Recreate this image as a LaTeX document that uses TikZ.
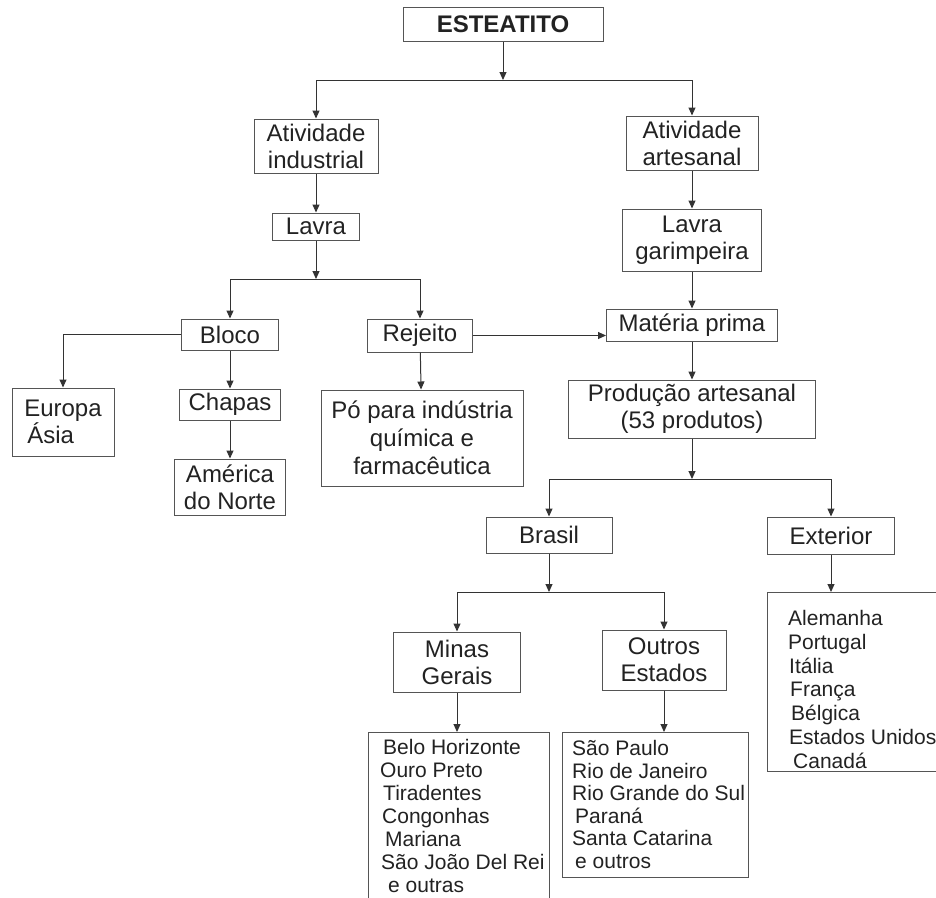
\documentclass[tikz,border=0pt]{standalone}
\usepackage{fontspec}
\setmainfont{Liberation Sans}
\usepackage{tikz}
\usetikzlibrary{arrows.meta}
\definecolor{linegray}{HTML}{333333}
\definecolor{boxgray}{HTML}{555555}
\definecolor{textgray}{HTML}{222222}
\tikzstyle{box} = [rectangle, draw=boxgray, line width=1pt, inner sep=0pt, text=textgray, align=center, font=\fontsize{24}{27}\selectfont]
\tikzstyle{listbox} = [rectangle, draw=boxgray, line width=1pt, inner sep=0pt, anchor=north west]
\tikzstyle{listtext} = [inner sep=0pt, anchor=north west, align=left, text=textgray]
\tikzstyle{arrow} = [line width=1pt, linegray, -{Triangle[length=8pt,width=7pt]}]

\begin{document}
\begin{tikzpicture}[x=1pt, y=-1pt]
    \useasboundingbox (0,0) rectangle (936,897);
    \clip (0,0) rectangle (936,897);
    % boxes
    \node (top) [box, minimum width=200pt, minimum height=34pt, font=\bfseries\fontsize{24}{27}\selectfont] at (503,24) {ESTEATITO};
    \node (ind) [box, minimum width=124pt, minimum height=54pt] at (316,146) {Atividade\\industrial};
    \node (art) [box, minimum width=132pt, minimum height=54pt] at (692,143) {Atividade\\artesanal};
    \node (lavra) [box, minimum width=87pt, minimum height=27pt] at (316,226.5) {Lavra};
    \node (garimp) [box, minimum width=139pt, minimum height=62pt] at (692,240) {Lavra\\garimpeira};
    \node (bloco) [box, minimum width=97pt, minimum height=31pt] at (230,334.5) {Bloco};
    \node (rejeito) [box, minimum width=105pt, minimum height=33pt] at (420,335.5) {Rejeito};
    \node (materia) [box, minimum width=171pt, minimum height=32pt] at (692,325) {Matéria prima};
    \node (europa) [box, minimum width=102pt, minimum height=68pt, align=left] at (63,422) {Europa\\\hspace*{3pt}Ásia};
    \node (chapas) [box, minimum width=101pt, minimum height=31pt] at (230,404.5) {Chapas};
    \node (america) [box, minimum width=111pt, minimum height=56pt] at (230,487) {América\\do Norte};
    \node (po) [box, minimum width=202pt, minimum height=96pt, font=\fontsize{24}{28}\selectfont] at (422,438) {Pó para indústria\\química e\\farmacêutica};
    \node (producao) [box, minimum width=247pt, minimum height=58pt] at (692,409) {Produção artesanal\\(53 produtos)};
    \node (brasil) [box, minimum width=126pt, minimum height=36pt] at (549,535) {Brasil};
    \node (exterior) [box, minimum width=127pt, minimum height=37pt] at (831,535.5) {Exterior};
    \node (minas) [box, minimum width=127pt, minimum height=60pt] at (457,662) {Minas\\Gerais};
    \node (outros) [box, minimum width=124pt, minimum height=60pt] at (664,660) {Outros\\Estados};
    % lists
    \node (minaslist) [listbox, minimum width=181pt, minimum height=180pt] at (368,732) {};
    \node (outroslist) [listbox, minimum width=186pt, minimum height=145pt] at (562,732) {};
    \node (extlist) [listbox, minimum width=200pt, minimum height=179pt] at (767,592) {};
    \node (minastext) [listtext, font=\fontsize{21}{23}\selectfont] at (380,739) {\hspace*{3pt}Belo Horizonte\\Ouro Preto\\\hspace*{3pt}Tiradentes\\\hspace*{2pt}Congonhas\\\hspace*{5pt}Mariana\\\hspace*{1pt}São João Del Rei\\\hspace*{8pt}e outras};
    \node (outrostext) [listtext, font=\fontsize{21}{22.6}\selectfont] at (572,740) {São Paulo\\Rio de Janeiro\\Rio Grande do Sul\\\hspace*{3pt}Paraná\\Santa Catarina\\\hspace*{3pt}e outros};
    \node (exttext) [listtext, font=\fontsize{21}{23.8}\selectfont] at (788,610) {Alemanha\\Portugal\\\hspace*{1pt}Itália\\\hspace*{2pt}França\\\hspace*{3pt}Bélgica\\\hspace*{1pt}Estados Unidos\\\hspace*{5pt}Canadá};
    % junctions
    \coordinate (j1) at (503,80);
    \coordinate (j2) at (316,279);
    \coordinate (j3) at (692,479);
    \coordinate (j4) at (549,592);
    % connectors
    \draw [arrow] (top) -- (j1);
    \draw [arrow] (j1) -| (ind);
    \draw [arrow] (j1) -| (art);
    \draw [arrow] (ind) -- (lavra);
    \draw [arrow] (lavra) -- (j2);
    \draw [arrow] (j2) -| (bloco);
    \draw [arrow] (j2) -| (rejeito);
    \draw [arrow] (bloco.west) -| (europa);
    \draw [arrow] (bloco) -- (chapas);
    \draw [arrow] (chapas) -- (america);
    \draw [arrow] (rejeito) -- (po);
    \draw [arrow] (rejeito.east) -- (rejeito.east -| materia.west);
    \draw [arrow] (art) -- (garimp);
    \draw [arrow] (garimp) -- (materia);
    \draw [arrow] (materia) -- (producao);
    \draw [arrow] (producao) -- (j3);
    \draw [arrow] (j3) -| (brasil);
    \draw [arrow] (j3) -| (exterior);
    \draw [arrow] (brasil) -- (j4);
    \draw [arrow] (j4) -| (minas);
    \draw [arrow] (j4) -| (outros);
    \draw [arrow] (minas.south) -- (minas.south |- minaslist.north);
    \draw [arrow] (outros.south) -- (outros.south |- outroslist.north);
    \draw [arrow] (exterior.south) -- (exterior.south |- extlist.north);
\end{tikzpicture}
\end{document}
